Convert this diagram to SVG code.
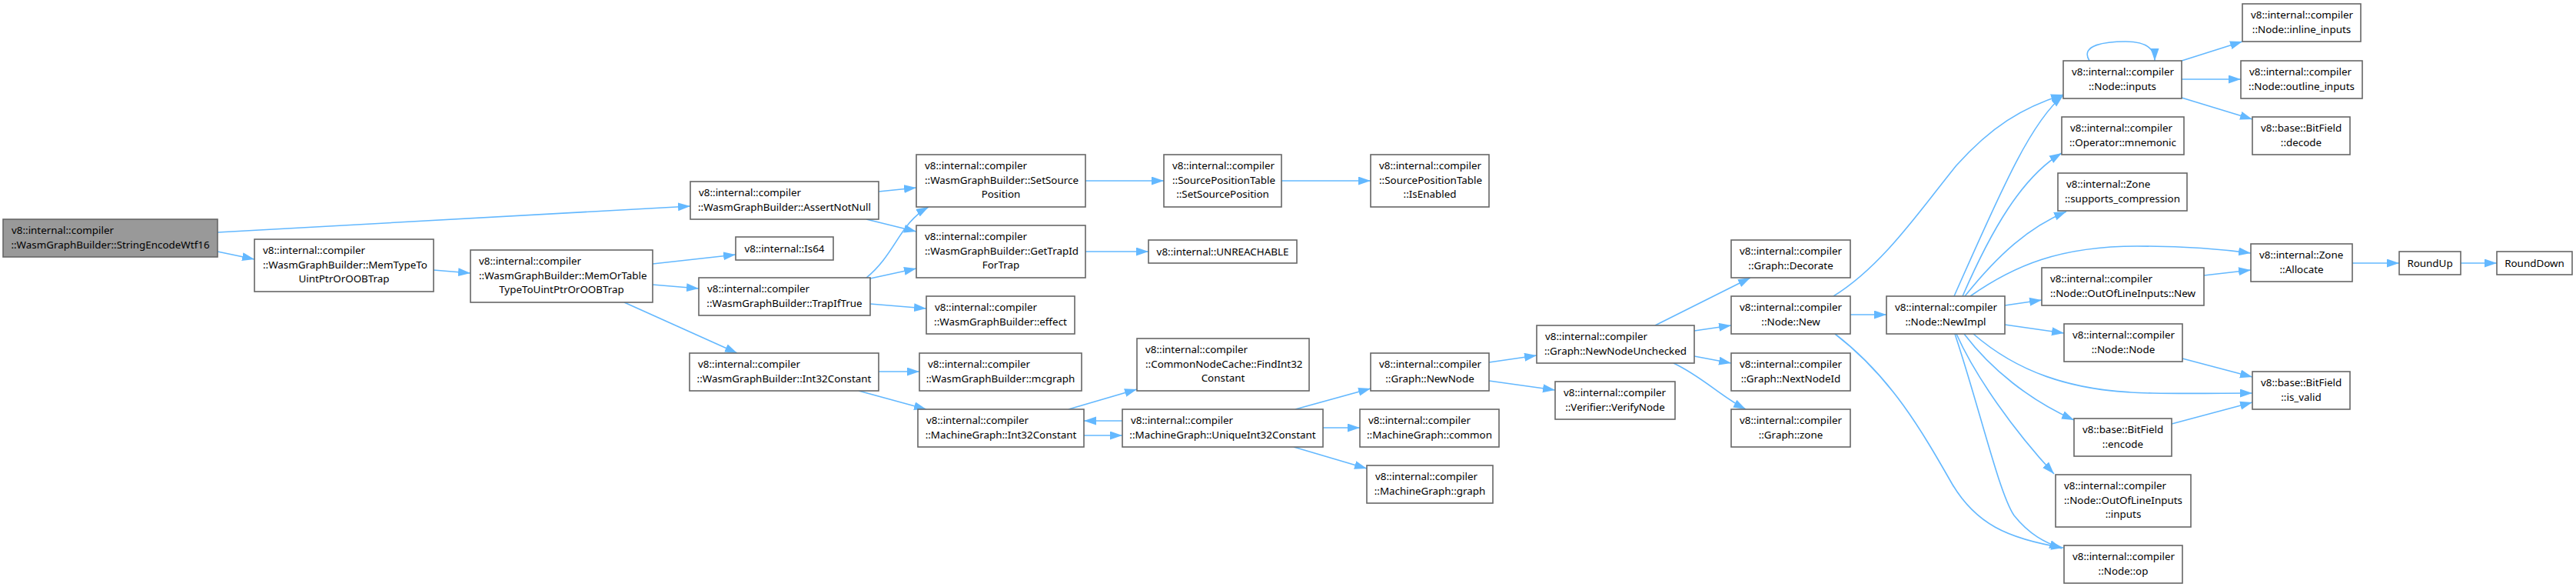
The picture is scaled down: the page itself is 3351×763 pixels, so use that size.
<svg xmlns="http://www.w3.org/2000/svg" width="3351" height="763" viewBox="0 0 3351 763">
<style>
.node rect{fill:#ffffff;stroke:#666666;stroke-width:1.6}
.main rect{fill:#999999;stroke:#666666}
text{font-family:"Noto Sans","Liberation Sans",sans-serif;font-size:13.4px;fill:#000000}
.c{text-anchor:middle}
.edges path{fill:none;stroke:#63b8ff;stroke-width:1.6;marker-end:url(#arr)}
</style>
<defs>
<marker id="arr" markerUnits="userSpaceOnUse" markerWidth="17" markerHeight="12" refX="16" refY="5.5" orient="auto">
<path d="M0,0 L16,5.5 L0,11 z" fill="#63b8ff"/>
</marker>
</defs>
<rect width="3351" height="763" fill="#ffffff"/>
<g id="edges" class="edges">
<path d="M283,302 L898,268"/>
<path d="M283,327 L331,337"/>
<path d="M564,351 L612,355"/>
<path d="M849,343 L957,331"/>
<path d="M849,370 L909,375"/>
<path d="M812,393 L959,459"/>
<path d="M1143,249 L1192,244"/>
<path d="M1127,285 L1192,301"/>
<path d="M1127,361 C1165,330 1170,290 1208,269"/>
<path d="M1132,362 L1192,349"/>
<path d="M1132,395 L1205,401"/>
<path d="M1412,235 L1514,235"/>
<path d="M1667,235 L1783,235"/>
<path d="M1412,327 L1494,327"/>
<path d="M1143,483 L1196,483"/>
<path d="M1117,508 L1205,532"/>
<path d="M1390,532 L1479,506"/>
<path d="M1410,566 L1460,566"/>
<path d="M1460,547 L1410,547"/>
<path d="M1685,532 L1783,505"/>
<path d="M1721,556 L1769,556"/>
<path d="M1683,581 L1778,609"/>
<path d="M1937,471 L1999,462"/>
<path d="M1937,495 L2023,507"/>
<path d="M2153,423 L2277,361"/>
<path d="M2204,430 L2252,423"/>
<path d="M2204,463 L2252,472"/>
<path d="M2177,472 C2215,490 2238,515 2271,532"/>
<path d="M2407,409 L2454,409"/>
<path d="M2385,385 C2450,345 2500,270 2545,215 C2590,165 2630,140 2684,123"/>
<path d="M2387,434 C2460,490 2500,560 2540,630 C2570,680 2610,700 2684,712"/>
<path d="M2542,385 C2600,255 2640,160 2684,124"/>
<path d="M2553,385 C2590,300 2630,230 2682,199"/>
<path d="M2556,385 C2600,330 2640,295 2688,275"/>
<path d="M2563,385 C2620,345 2680,320 2780,320 C2840,320 2890,324 2928,329"/>
<path d="M2608,397 L2656,390"/>
<path d="M2608,422 L2685,433"/>
<path d="M2567,434 C2620,480 2690,510 2800,511 C2850,512 2890,511 2930,511"/>
<path d="M2555,434 C2590,480 2640,520 2698,546"/>
<path d="M2545,434 C2570,490 2620,560 2672,616"/>
<path d="M2543,434 C2575,530 2600,640 2620,670 C2640,695 2660,705 2682,713"/>
<path d="M2839,466 L2930,490"/>
<path d="M2825,551 L2930,523"/>
<path d="M2867,358 L2928,351"/>
<path d="M3060,342 L3121,342"/>
<path d="M3201,342 L3248,342"/>
<path d="M2838,79 L2917,54"/>
<path d="M2838,103 L2915,103"/>
<path d="M2838,127 L2930,155"/>
<path d="M2718,79 C2705,58 2740,54 2765,54 C2790,54 2803,62 2803,79"/>
</g>
<g id="n1" class="node main"><rect x="4" y="285" width="279" height="49"/><text x="15" y="303.7">v8::internal::compiler</text><text class="c" x="143.5" y="322.5">::WasmGraphBuilder::StringEncodeWtf16</text></g>
<g id="n2" class="node"><rect x="331" y="311" width="233" height="68"/><text x="342" y="329.7">v8::internal::compiler</text><text x="342" y="348.5">::WasmGraphBuilder::MemTypeTo</text><text class="c" x="447.5" y="367.3">UintPtrOrOOBTrap</text></g>
<g id="n3" class="node"><rect x="612" y="325" width="237" height="68"/><text x="623" y="343.7">v8::internal::compiler</text><text x="623" y="362.5">::WasmGraphBuilder::MemOrTable</text><text class="c" x="730.5" y="381.3">TypeToUintPtrOrOOBTrap</text></g>
<g id="n4" class="node"><rect x="898" y="236" width="245" height="49"/><text x="909" y="254.7">v8::internal::compiler</text><text class="c" x="1020.5" y="273.5">::WasmGraphBuilder::AssertNotNull</text></g>
<g id="n5" class="node"><rect x="1192" y="201" width="220" height="68"/><text x="1203" y="219.7">v8::internal::compiler</text><text x="1203" y="238.5">::WasmGraphBuilder::SetSource</text><text class="c" x="1302" y="257.3">Position</text></g>
<g id="n6" class="node"><rect x="1514" y="201" width="153" height="68"/><text x="1525" y="219.7">v8::internal::compiler</text><text x="1525" y="238.5">::SourcePositionTable</text><text class="c" x="1590.5" y="257.3">::SetSourcePosition</text></g>
<g id="n7" class="node"><rect x="1783" y="201" width="154" height="68"/><text x="1794" y="219.7">v8::internal::compiler</text><text x="1794" y="238.5">::SourcePositionTable</text><text class="c" x="1860" y="257.3">::IsEnabled</text></g>
<g id="n8" class="node"><rect x="957" y="308" width="127" height="30"/><text class="c" x="1020.5" y="327.5">v8::internal::Is64</text></g>
<g id="n9" class="node"><rect x="1192" y="293" width="220" height="68"/><text x="1203" y="311.7">v8::internal::compiler</text><text x="1203" y="330.5">::WasmGraphBuilder::GetTrapId</text><text class="c" x="1302" y="349.3">ForTrap</text></g>
<g id="n10" class="node"><rect x="1494" y="312" width="193" height="30"/><text class="c" x="1590.5" y="331.5">v8::internal::UNREACHABLE</text></g>
<g id="n11" class="node"><rect x="909" y="361" width="223" height="49"/><text x="920" y="379.7">v8::internal::compiler</text><text class="c" x="1020.5" y="398.5">::WasmGraphBuilder::TrapIfTrue</text></g>
<g id="n12" class="node"><rect x="1205" y="385" width="193" height="49"/><text x="1216" y="403.7">v8::internal::compiler</text><text class="c" x="1301.5" y="422.5">::WasmGraphBuilder::effect</text></g>
<g id="n13" class="node"><rect x="897" y="459" width="246" height="49"/><text x="908" y="477.7">v8::internal::compiler</text><text class="c" x="1020" y="496.5">::WasmGraphBuilder::Int32Constant</text></g>
<g id="n14" class="node"><rect x="1196" y="459" width="211" height="49"/><text x="1207" y="477.7">v8::internal::compiler</text><text class="c" x="1301.5" y="496.5">::WasmGraphBuilder::mcgraph</text></g>
<g id="n15" class="node"><rect x="1479" y="440" width="224" height="68"/><text x="1490" y="458.7">v8::internal::compiler</text><text x="1490" y="477.5">::CommonNodeCache::FindInt32</text><text class="c" x="1591" y="496.3">Constant</text></g>
<g id="n16" class="node"><rect x="1194" y="532" width="216" height="49"/><text x="1205" y="550.7">v8::internal::compiler</text><text class="c" x="1302" y="569.5">::MachineGraph::Int32Constant</text></g>
<g id="n17" class="node"><rect x="1460" y="532" width="261" height="49"/><text x="1471" y="550.7">v8::internal::compiler</text><text class="c" x="1590.5" y="569.5">::MachineGraph::UniqueInt32Constant</text></g>
<g id="n18" class="node"><rect x="1783" y="459" width="154" height="49"/><text x="1794" y="477.7">v8::internal::compiler</text><text class="c" x="1860" y="496.5">::Graph::NewNode</text></g>
<g id="n19" class="node"><rect x="1769" y="532" width="181" height="49"/><text x="1780" y="550.7">v8::internal::compiler</text><text class="c" x="1859.5" y="569.5">::MachineGraph::common</text></g>
<g id="n20" class="node"><rect x="1778" y="605" width="164" height="49"/><text x="1789" y="623.7">v8::internal::compiler</text><text class="c" x="1860" y="642.5">::MachineGraph::graph</text></g>
<g id="n21" class="node"><rect x="1999" y="423" width="205" height="49"/><text x="2010" y="441.7">v8::internal::compiler</text><text class="c" x="2101.5" y="460.5">::Graph::NewNodeUnchecked</text></g>
<g id="n22" class="node"><rect x="2023" y="496" width="156" height="49"/><text x="2034" y="514.7">v8::internal::compiler</text><text class="c" x="2101" y="533.5">::Verifier::VerifyNode</text></g>
<g id="n23" class="node"><rect x="2252" y="312" width="155" height="49"/><text x="2263" y="330.7">v8::internal::compiler</text><text class="c" x="2329.5" y="349.5">::Graph::Decorate</text></g>
<g id="n24" class="node"><rect x="2252" y="385" width="155" height="49"/><text x="2263" y="403.7">v8::internal::compiler</text><text class="c" x="2329.5" y="422.5">::Node::New</text></g>
<g id="n25" class="node"><rect x="2252" y="459" width="155" height="49"/><text x="2263" y="477.7">v8::internal::compiler</text><text class="c" x="2329.5" y="496.5">::Graph::NextNodeId</text></g>
<g id="n26" class="node"><rect x="2252" y="532" width="155" height="49"/><text x="2263" y="550.7">v8::internal::compiler</text><text class="c" x="2329.5" y="569.5">::Graph::zone</text></g>
<g id="n27" class="node"><rect x="2454" y="385" width="154" height="49"/><text x="2465" y="403.7">v8::internal::compiler</text><text class="c" x="2531" y="422.5">::Node::NewImpl</text></g>
<g id="n28" class="node"><rect x="2684" y="79" width="154" height="49"/><text x="2695" y="97.7">v8::internal::compiler</text><text class="c" x="2761" y="116.5">::Node::inputs</text></g>
<g id="n29" class="node"><rect x="2917" y="5" width="154" height="49"/><text x="2928" y="23.7">v8::internal::compiler</text><text class="c" x="2994" y="42.5">::Node::inline_inputs</text></g>
<g id="n30" class="node"><rect x="2915" y="79" width="158" height="49"/><text x="2926" y="97.7">v8::internal::compiler</text><text class="c" x="2994" y="116.5">::Node::outline_inputs</text></g>
<g id="n31" class="node"><rect x="2930" y="152" width="127" height="49"/><text x="2941" y="170.7">v8::base::BitField</text><text class="c" x="2993.5" y="189.5">::decode</text></g>
<g id="n32" class="node"><rect x="2682" y="152" width="159" height="49"/><text x="2693" y="170.7">v8::internal::compiler</text><text class="c" x="2761.5" y="189.5">::Operator::mnemonic</text></g>
<g id="n33" class="node"><rect x="2677" y="225" width="168" height="49"/><text x="2688" y="243.7">v8::internal::Zone</text><text class="c" x="2761" y="262.5">::supports_compression</text></g>
<g id="n34" class="node"><rect x="2928" y="317" width="132" height="49"/><text x="2939" y="335.7">v8::internal::Zone</text><text class="c" x="2994" y="354.5">::Allocate</text></g>
<g id="n35" class="node"><rect x="3121" y="327" width="80" height="30"/><text class="c" x="3161" y="346.5">RoundUp</text></g>
<g id="n36" class="node"><rect x="3248" y="327" width="98" height="30"/><text class="c" x="3297" y="346.5">RoundDown</text></g>
<g id="n37" class="node"><rect x="2656" y="348" width="211" height="49"/><text x="2667" y="366.7">v8::internal::compiler</text><text class="c" x="2761.5" y="385.5">::Node::OutOfLineInputs::New</text></g>
<g id="n38" class="node"><rect x="2685" y="421" width="154" height="49"/><text x="2696" y="439.7">v8::internal::compiler</text><text class="c" x="2762" y="458.5">::Node::Node</text></g>
<g id="n39" class="node"><rect x="2930" y="483" width="127" height="49"/><text x="2941" y="501.7">v8::base::BitField</text><text class="c" x="2993.5" y="520.5">::is_valid</text></g>
<g id="n40" class="node"><rect x="2698" y="544" width="127" height="49"/><text x="2709" y="562.7">v8::base::BitField</text><text class="c" x="2761.5" y="581.5">::encode</text></g>
<g id="n41" class="node"><rect x="2674" y="617" width="176" height="68"/><text x="2685" y="635.7">v8::internal::compiler</text><text x="2685" y="654.5">::Node::OutOfLineInputs</text><text class="c" x="2762" y="673.3">::inputs</text></g>
<g id="n42" class="node"><rect x="2685" y="709" width="154" height="49"/><text x="2696" y="727.7">v8::internal::compiler</text><text class="c" x="2762" y="746.5">::Node::op</text></g>
</svg>
